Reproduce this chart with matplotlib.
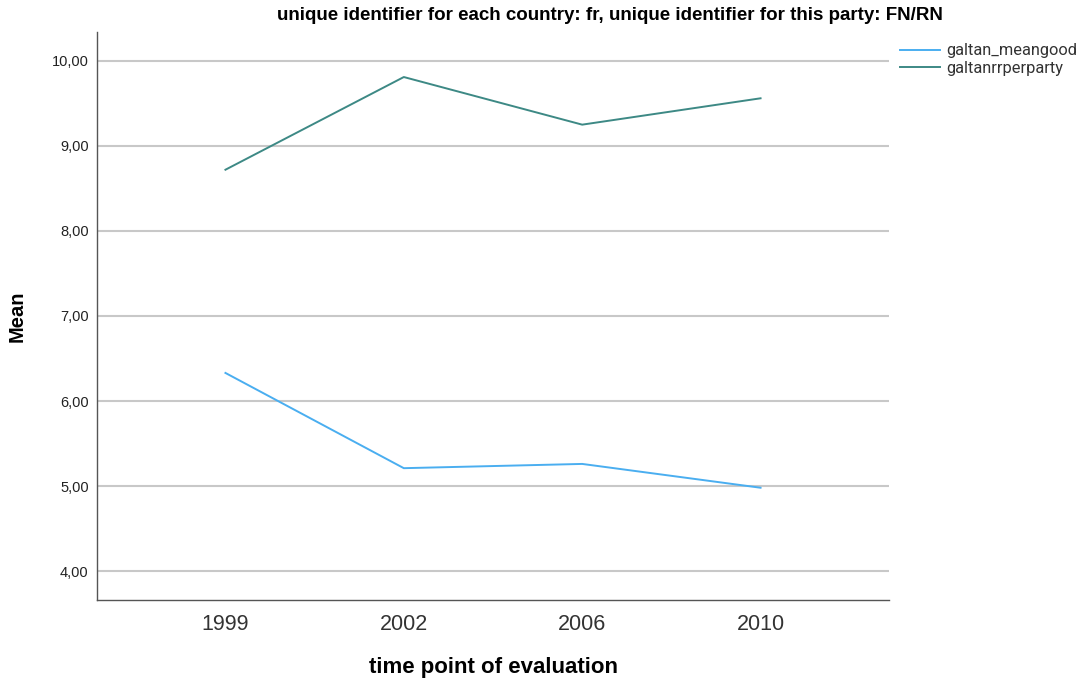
import matplotlib.pyplot as plt
from matplotlib.ticker import FuncFormatter

plt.rcParams['font.family'] = ['Liberation Sans', 'DejaVu Sans']

# data
years = ['1999', '2002', '2006', '2010']
galtan_meangood = [6.33, 5.21, 5.26, 4.98]
galtanrrperparty = [8.72, 9.81, 9.25, 9.56]
y_ticks = [4, 5, 6, 7, 8, 9, 10]

fig = plt.figure(figsize=(10.84, 6.86), dpi=100)
ax = fig.add_axes([0.0895, 0.1254, 0.7306, 0.828])

x = range(len(years))
ax.plot(x, galtan_meangood, color='#4aaef0', lw=1.4, label='galtan_meangood')
ax.plot(x, galtanrrperparty, color='#3d8985', lw=1.4, label='galtanrrperparty')

ax.set_xlim(-0.72, len(years) - 1 + 0.72)
ax.set_ylim(3.66, 10.34)
ax.set_xticks(list(x))
ax.set_xticklabels(years, fontsize=15.5, color='#333333')
ax.set_yticks(y_ticks)
ax.yaxis.set_major_formatter(FuncFormatter(lambda v, p: f'{v:.2f}'.replace('.', ',')))
ax.tick_params(axis='y', labelsize=10.5, colors='#222222', length=0, pad=6)
ax.tick_params(axis='x', length=0, pad=10)

ax.grid(axis='y', color='#c8c8c8', lw=1.5)
ax.set_axisbelow(True)
for s in ['top', 'right']:
    ax.spines[s].set_visible(False)
for s in ['left', 'bottom']:
    ax.spines[s].set_color('#555555')
    ax.spines[s].set_linewidth(1.0)

ax.set_xlabel('time point of evaluation', fontsize=16, fontweight='bold', labelpad=16)
ax.set_ylabel('Mean', fontsize=14.5, fontweight='bold', labelpad=18)

fig.text(0.563, 0.978, 'unique identifier for each country: fr, unique identifier for this party: FN/RN',
         ha='center', va='center', fontsize=13.5, fontweight='bold')

leg = ax.legend(loc='upper left', bbox_to_anchor=(1.0, 1.0), frameon=False,
                prop={'family': ['Roboto', 'DejaVu Sans'], 'size': 11.8},
                handlelength=2.4, handletextpad=0.4,
                labelspacing=0.15, borderaxespad=0.3)
for t in leg.get_texts():
    t.set_color('#333333')

fig.savefig('out.png', dpi=100)
